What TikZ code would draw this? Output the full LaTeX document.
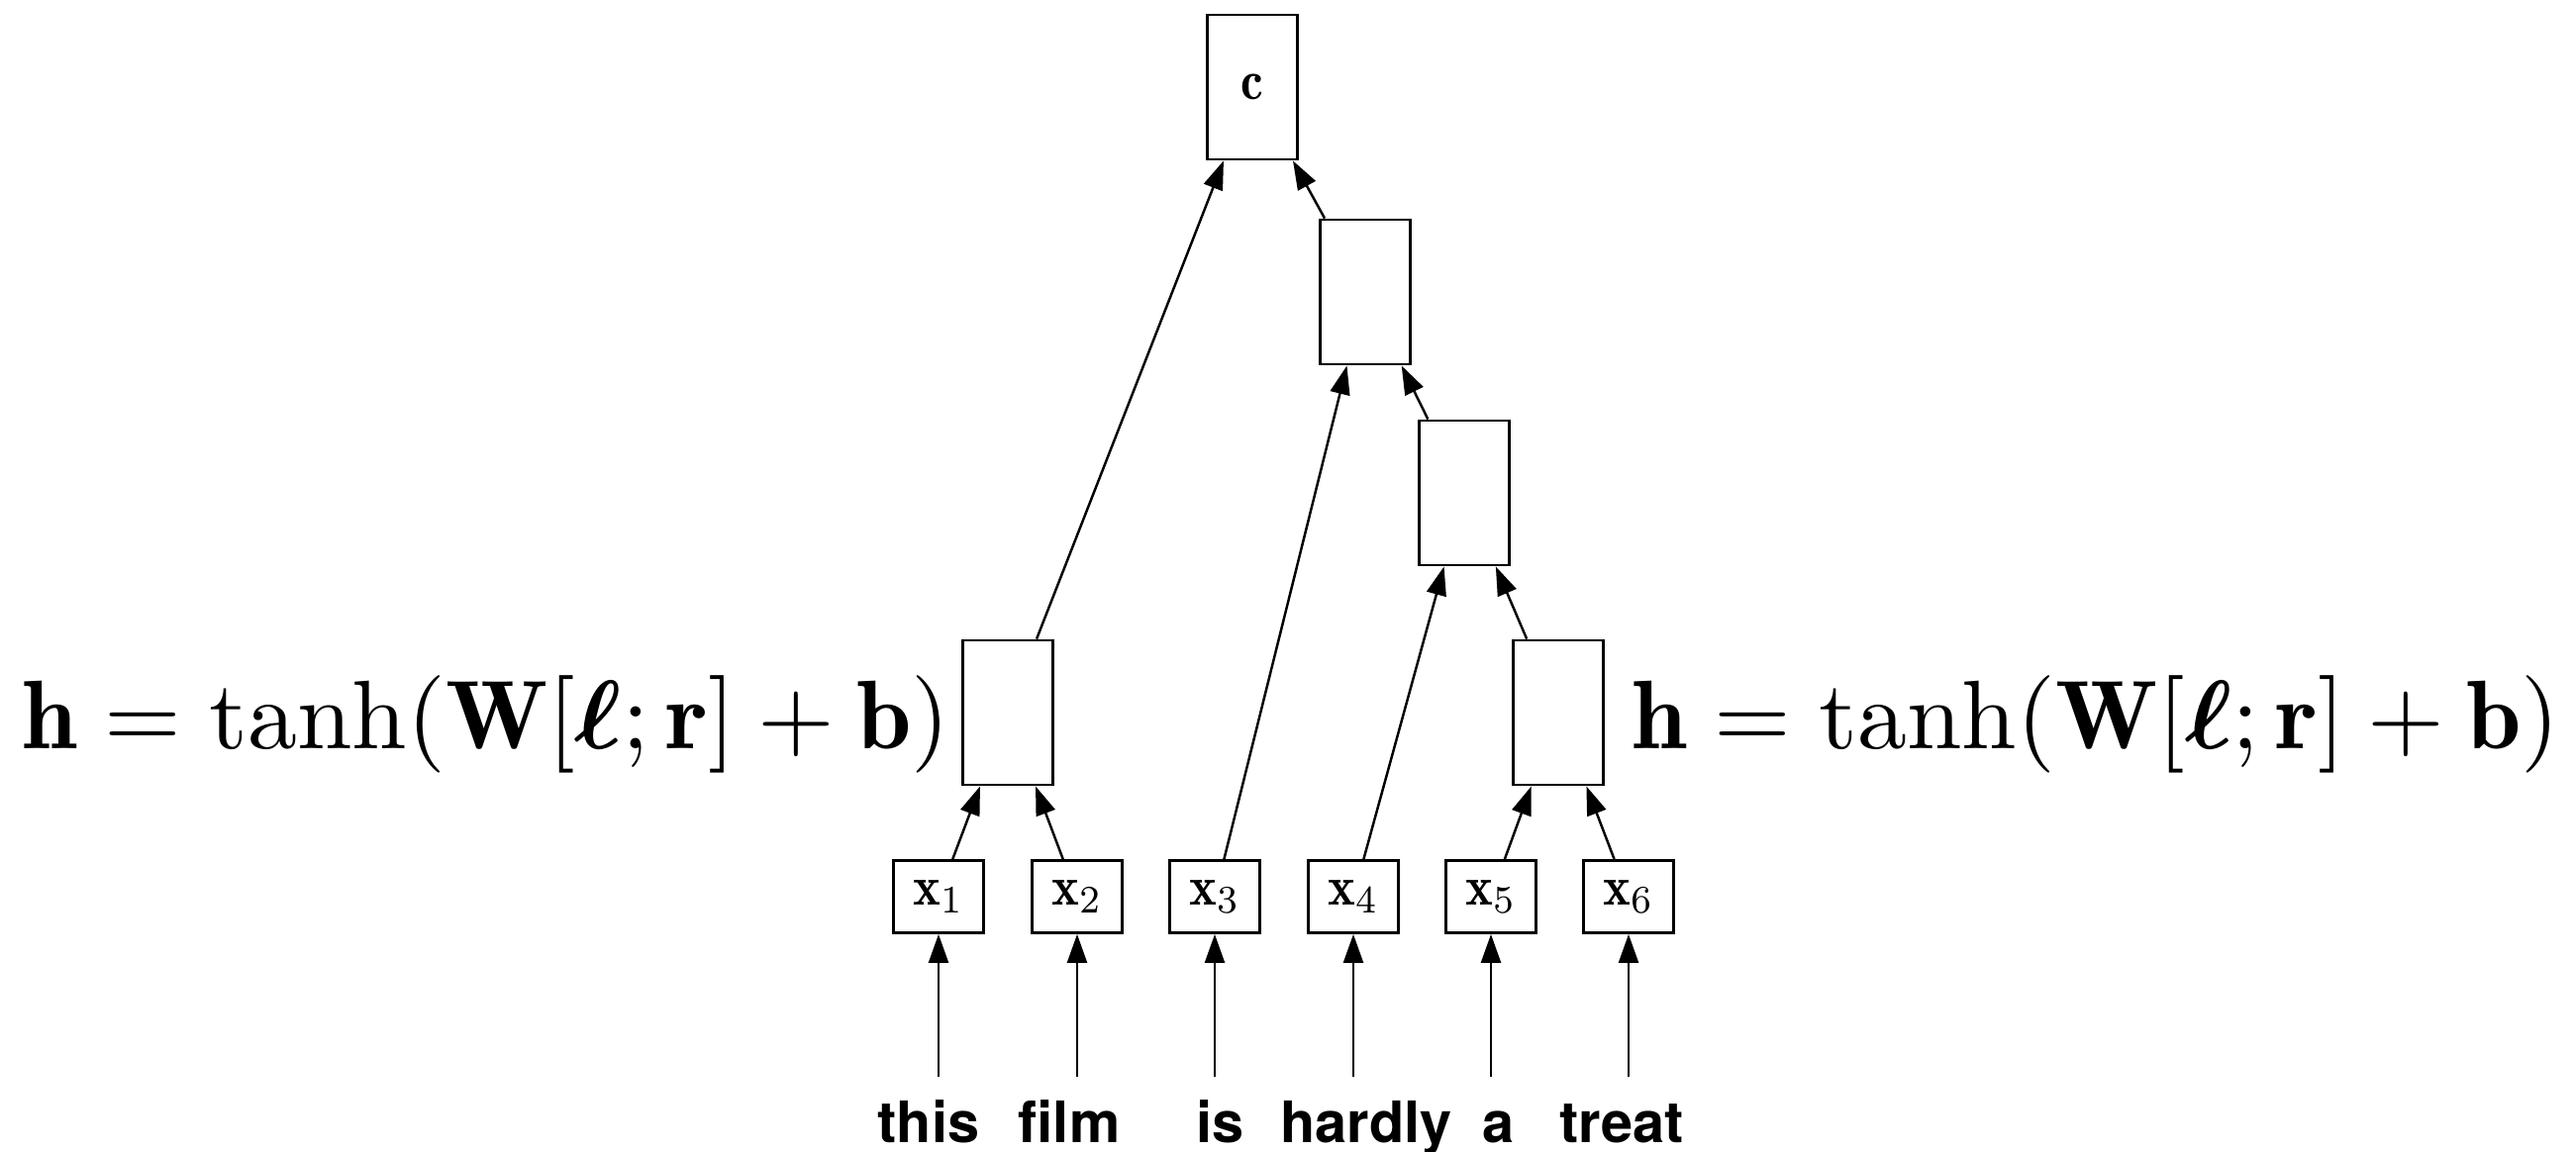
\documentclass[tikz,border=0pt]{standalone}
\usepackage{amsmath}
\usepackage{fontspec}
\newfontfamily\wordfont{TeX Gyre Heros}
\usetikzlibrary{arrows.meta}
% math set at 10pt and scaled up
\newcommand{\bigmath}[3]{\scalebox{#1}[#2]{$#3$}}

\begin{document}
\begin{tikzpicture}[x=0.01cm,y=-0.01cm,
  unit/.style={draw,line width=0.8pt,minimum width=0.91cm,minimum height=1.46cm,inner sep=0pt},
  inp/.style={draw,line width=0.8pt,minimum width=0.91cm,minimum height=0.73cm,inner sep=0pt},
  edge/.style={line width=0.7pt,-{Triangle[length=0.29cm,width=0.2cm]}},
  word/.style={anchor=base,inner sep=0pt,font=\wordfont\bfseries\fontsize{16.4}{19}\selectfont},
  eq/.style={inner sep=0pt}]
\useasboundingbox (0,0) rectangle (2602,1164);

% composition units of the tree
\node[unit] (c) at (1265,88) {\bigmath{1.45}{1.6}{\mathbf{c}}};
\node[unit] (b) at (1379,295) {};
\node[unit] (d) at (1479,498) {};
\node[unit] (l) at (1018,720) {};
\node[unit] (r) at (1574,720) {};

% word vectors
\node[inp] (x1) at (948,906) {\bigmath{1.5}{1.6}{\mathbf{x}_1}};
\node[inp] (x2) at (1088,906) {\bigmath{1.5}{1.6}{\mathbf{x}_2}};
\node[inp] (x3) at (1227,906) {\bigmath{1.5}{1.6}{\mathbf{x}_3}};
\node[inp] (x4) at (1367,906) {\bigmath{1.5}{1.6}{\mathbf{x}_4}};
\node[inp] (x5) at (1506,906) {\bigmath{1.5}{1.6}{\mathbf{x}_5}};
\node[inp] (x6) at (1645,906) {\bigmath{1.5}{1.6}{\mathbf{x}_6}};

% input words
\node[word] (w1) at (938,1154) {this};
\node[word] (w2) at (1080,1154) {film};
\node[word] (w3) at (1233,1154) {is};
\node[word] (w4) at (1380,1154) {hardly};
\node[word] (w5) at (1514,1154) {a};
\node[word] (w6) at (1638,1154) {treat};

% lower ends of the input arrows
\foreach \i in {1,...,6}
  \coordinate (s\i) at ([yshift=-1.44cm]x\i.south);

% tree edges
\draw[edge] (x1) -- (l);
\draw[edge] (x2) -- (l);
\draw[edge] (x5) -- (r);
\draw[edge] (x6) -- (r);
\draw[edge] (x4) -- (d);
\draw[edge] (r) -- (d);
\draw[edge] (x3) -- (b);
\draw[edge] (d) -- (b);
\draw[edge] (l) -- (c);
\draw[edge] (b) -- (c);

% word-to-vector arrows
\foreach \i in {1,...,6}
  \draw[edge] (s\i) -- (x\i.south);

% composition function labels
\node[eq,anchor=base west] (fl) at (22,757)
  {\bigmath{2.84}{2.8}{\mathbf{h} = \tanh(\mathbf{W}[\boldsymbol{\ell};\mathbf{r}] + \mathbf{b})}};
\node[eq,anchor=base west] (fr) at (1648,757)
  {\bigmath{2.84}{2.8}{\mathbf{h} = \tanh(\mathbf{W}[\boldsymbol{\ell};\mathbf{r}] + \mathbf{b})}};
\end{tikzpicture}
\end{document}
